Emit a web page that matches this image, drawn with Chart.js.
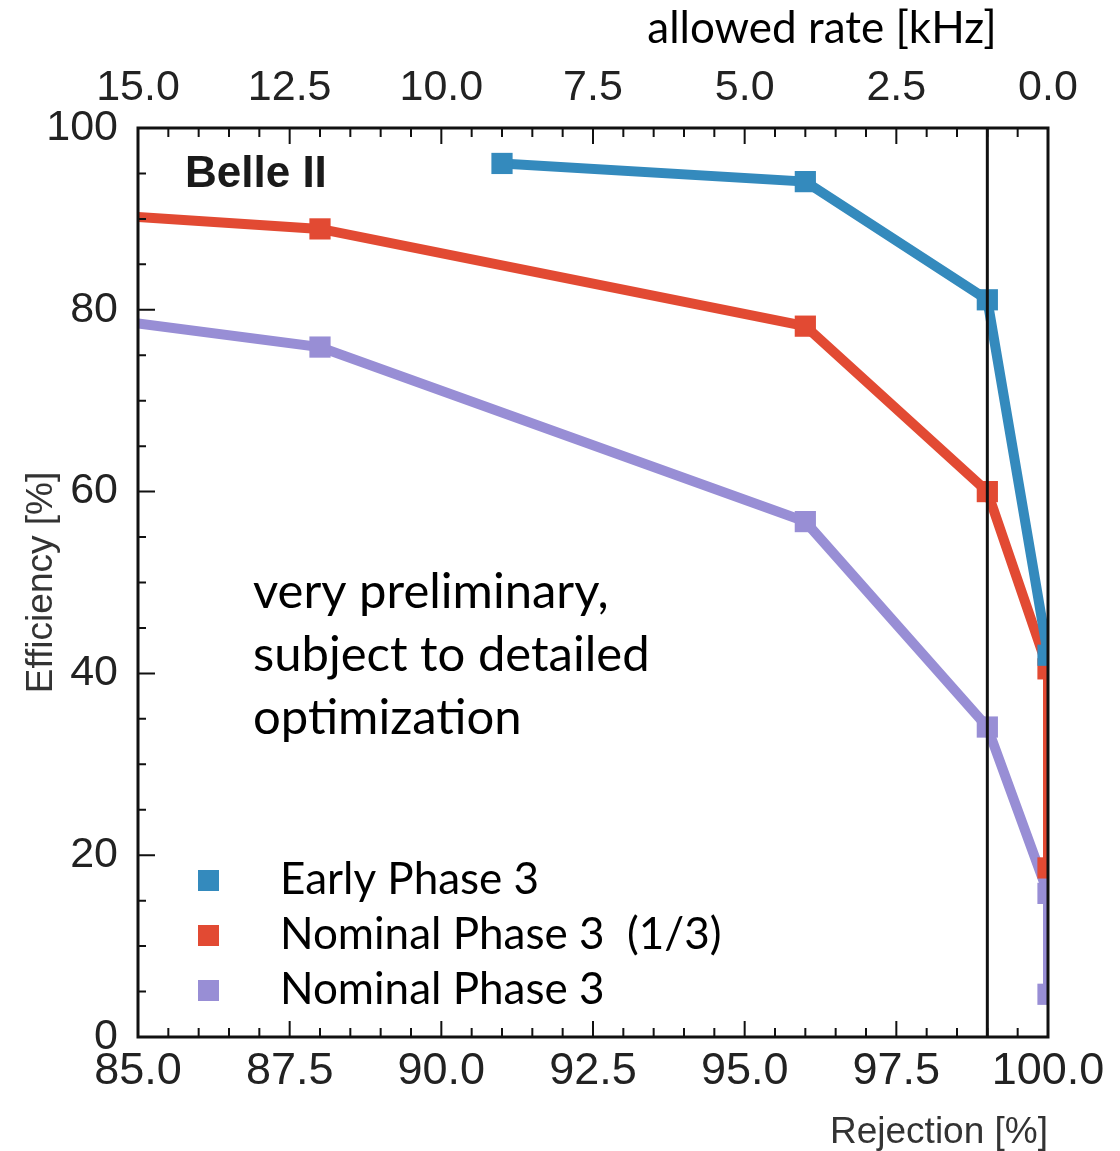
<!DOCTYPE html>
<html>
<head>
<meta charset="utf-8">
<script src="https://cdn.jsdelivr.net/npm/chart.js@4.4.1/dist/chart.umd.min.js"></script>
<style>
  html, body { margin: 0; padding: 0; background: #fff; }
</style>
</head>
<body>
<canvas id="chart" width="1120" height="1151"></canvas>
<script>
// series (rejection % vs efficiency %)
const LABELS = ['Early Phase 3', 'Nominal Phase 3  (1/3)', 'Nominal Phase 3'];
const COLORS = ['#348ABD', '#E24A33', '#988ED5'];

const EARLY_X = [91.0, 96.0, 99.0, 100.0];
const EARLY_Y = [96.1, 94.1, 81.1, 42.0];

const NOM13_X = [85.0, 88.0, 96.0, 99.0, 100.0, 100.0];
const NOM13_Y = [90.2, 88.9, 78.2, 60.0, 40.5, 18.6];

const NOM_X = [85.0, 88.0, 96.0, 99.0, 100.0, 100.0];
const NOM_Y = [78.5, 75.9, 56.7, 34.1, 15.8, 4.7];

const CUT_REJECTION = 99.0;
const NOTE = ['very preliminary,', 'subject to detailed', 'optimization'];

const SANS = '"Liberation Sans", Arial, sans-serif';
const CALIBRI = 'Lato, "Open Sans", sans-serif';

const toPoints = (xs, ys) => xs.map((x, i) => ({x: x, y: ys[i]}));

const makeSet = (label, color, xs, ys) => ({
    label: label,
    data: toPoints(xs, ys),
    showLine: true,
    borderColor: color,
    backgroundColor: color,
    borderWidth: 10,
    pointStyle: 'rect',
    // first point sits on the frame edge, line only
    pointRadius: xs.map(x => x <= 85 ? 0 : 15),
    pointBorderWidth: 0,
    clip: 0,
});

const frame = {
    id: 'frame',
    afterDraw(chart) {
        const {ctx, chartArea: a, scales} = chart;
        const x = scales.x, y = scales.y;
        ctx.save();
        ctx.strokeStyle = '#111';

        // vertical cut line
        ctx.lineWidth = 3;
        const xc = x.getPixelForValue(CUT_REJECTION);
        ctx.beginPath();
        ctx.moveTo(xc, a.top);
        ctx.lineTo(xc, a.bottom);
        ctx.stroke();

        // inward ticks
        ctx.lineWidth = 2;
        ctx.beginPath();
        for (let v = 85; v <= 100.001; v += 0.5) {
            const px = x.getPixelForValue(v);
            const major = Math.abs(v / 2.5 - Math.round(v / 2.5)) < 1e-6;
            const len = major ? 16 : 9;
            ctx.moveTo(px, a.bottom);
            ctx.lineTo(px, a.bottom - len);
            ctx.moveTo(px, a.top);
            ctx.lineTo(px, a.top + len);
        }
        for (let v = 0; v <= 100; v += 5) {
            const py = y.getPixelForValue(v);
            const len = v % 20 === 0 ? 17 : 8;
            ctx.moveTo(a.left, py);
            ctx.lineTo(a.left + len, py);
        }
        ctx.stroke();

        // frame
        ctx.lineWidth = 3;
        ctx.strokeRect(a.left, a.top, a.right - a.left, a.bottom - a.top);

        // labels inside the plot
        ctx.fillStyle = '#1a1a1a';
        ctx.textBaseline = 'middle';
        ctx.textAlign = 'left';
        ctx.font = 'bold 44px ' + SANS;
        ctx.fillText('Belle II', 185, 175);

        ctx.fillStyle = '#000';
        ctx.font = '49px ' + CALIBRI;
        NOTE.forEach((t, i) => ctx.fillText(t, 253, 592 + i * 63));

        // legend (squares only)
        ctx.font = '44px ' + CALIBRI;
        chart.data.datasets.forEach((ds, i) => {
            const cy = 880 + i * 55;
            ctx.fillStyle = ds.backgroundColor;
            ctx.fillRect(198, cy - 10, 21, 21);
            ctx.fillStyle = '#000';
            ctx.fillText(ds.label, 280, cy);
        });

        // top axis title
        ctx.font = '44px ' + CALIBRI;
        ctx.textAlign = 'center';
        ctx.fillText('allowed rate [kHz]', 822, 29);
        ctx.restore();
    }
};

new Chart(document.getElementById('chart'), {
    type: 'scatter',
    data: {
        datasets: [
            makeSet(LABELS[0], COLORS[0], EARLY_X, EARLY_Y),
            makeSet(LABELS[1], COLORS[1], NOM13_X, NOM13_Y),
            makeSet(LABELS[2], COLORS[2], NOM_X, NOM_Y),
        ]
    },
    options: {
        responsive: false,
        animation: false,
        devicePixelRatio: 1,
        layout: { padding: { right: 72 } },
        plugins: {
            legend: { display: false },
            tooltip: { enabled: false },
        },
        scales: {
            x: {
                type: 'linear',
                position: 'bottom',
                min: 85,
                max: 100,
                grid: { display: false, drawTicks: false },
                border: { display: false },
                ticks: {
                    stepSize: 2.5,
                    autoSkip: false,
                    maxRotation: 0,
                    padding: 12,
                    color: '#222',
                    font: { family: SANS, size: 45, lineHeight: 1 },
                    callback: v => v.toFixed(1),
                },
                title: {
                    display: true,
                    text: 'Rejection [%]',
                    align: 'end',
                    color: '#333',
                    padding: 0,
                    font: { family: SANS, size: 37, lineHeight: 1 },
                },
                afterFit(s) { s.height = 114; },
            },
            x2: {
                type: 'linear',
                position: 'top',
                min: 0,
                max: 15,
                reverse: true,
                grid: { display: false, drawTicks: false },
                border: { display: false },
                ticks: {
                    stepSize: 2.5,
                    autoSkip: false,
                    maxRotation: 0,
                    padding: 18,
                    color: '#222',
                    font: { family: SANS, size: 43, lineHeight: 1 },
                    callback: v => v.toFixed(1),
                },
                afterFit(s) { s.height = 128; },
            },
            y: {
                type: 'linear',
                min: 0,
                max: 100,
                grid: { display: false, drawTicks: false },
                border: { display: false },
                ticks: {
                    stepSize: 20,
                    padding: 20,
                    color: '#222',
                    font: { family: SANS, size: 43, lineHeight: 1 },
                },
                title: {
                    display: true,
                    text: 'Efficiency [%]',
                    color: '#333',
                    padding: { top: 23, bottom: 0 },
                    font: { family: SANS, size: 37, lineHeight: 1 },
                },
                afterFit(s) { s.width = 138; },
            },
        },
    },
    plugins: [frame],
});
</script>
</body>
</html>
